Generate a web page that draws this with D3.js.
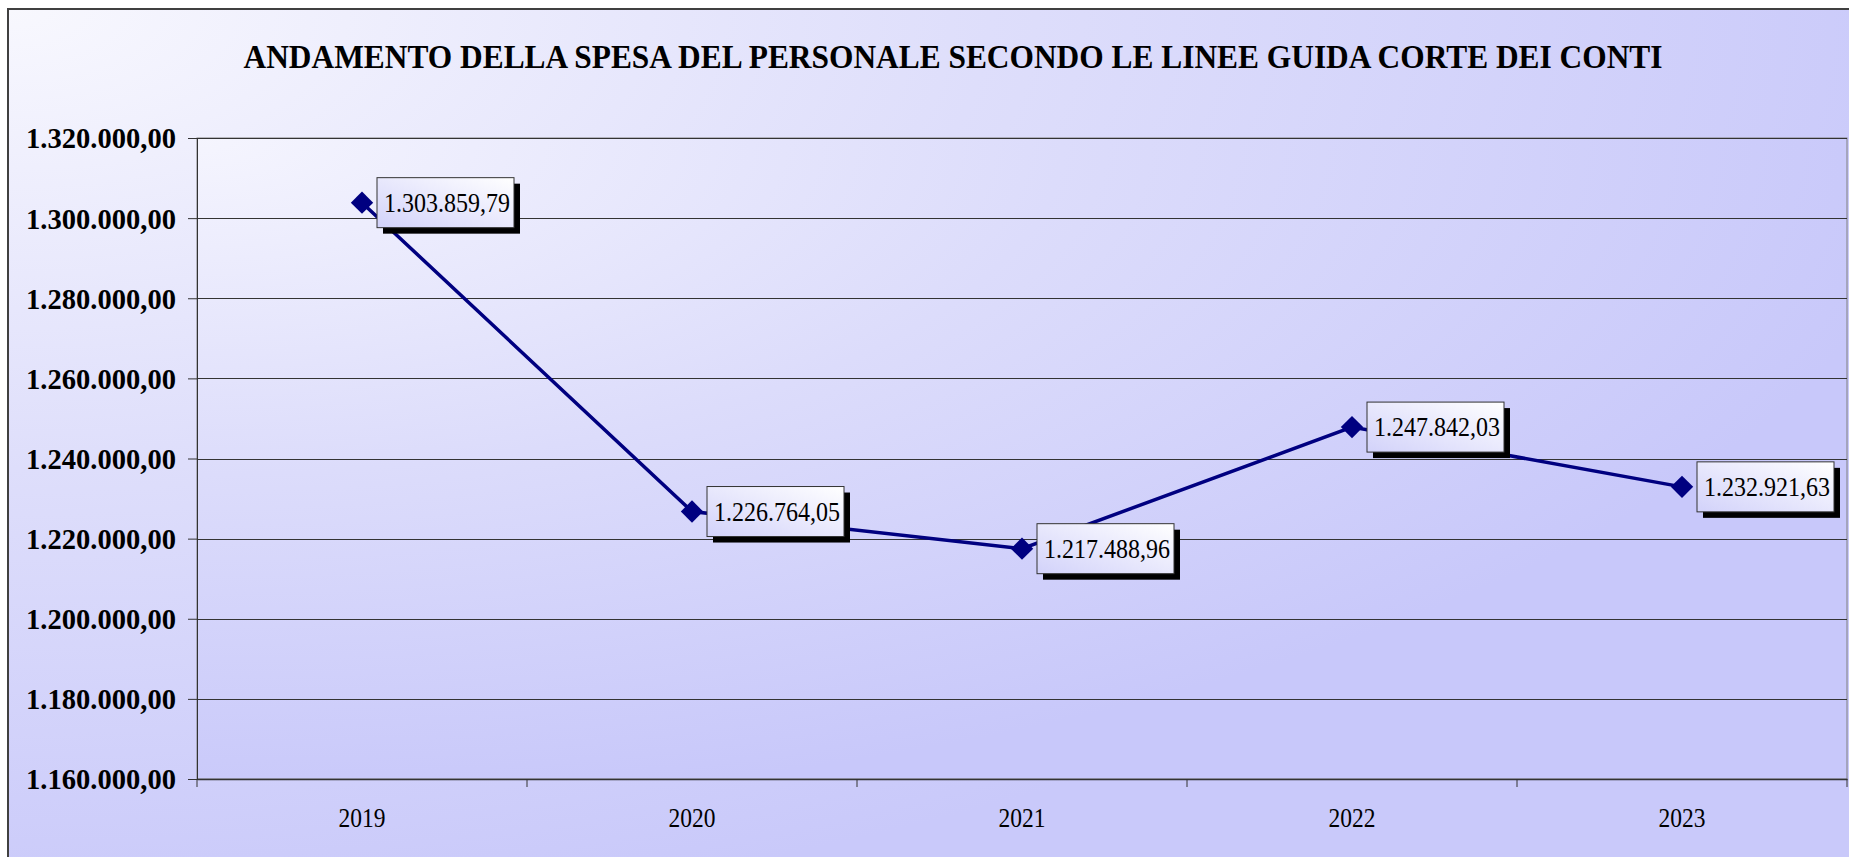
<!DOCTYPE html>
<html>
<head>
<meta charset="utf-8">
<script src="https://cdn.jsdelivr.net/npm/d3@7"></script>
<style>
  body { margin: 0; background: #ffffff; overflow: hidden; }
  svg { display: block; }
</style>
</head>
<body>
<div id="chart"></div>
<script>
// Data
const years = ["2019", "2020", "2021", "2022", "2023"];
const spesa = [1303859.79, 1226764.05, 1217488.96, 1247842.03, 1232921.63];
const yTicks = [1160000, 1180000, 1200000, 1220000, 1240000, 1260000, 1280000, 1300000, 1320000];
const title = "ANDAMENTO DELLA SPESA DEL PERSONALE SECONDO LE LINEE GUIDA CORTE DEI CONTI";

const W = 1849, H = 857;
const margin = {top: 138, right: 2, bottom: 78, left: 197};
const width = W - margin.left - margin.right;
const height = H - margin.top - margin.bottom;
const serif = "'Liberation Serif', 'Times New Roman', serif";

// Italian number format: 1.303.859,79
const it = d3.formatLocale({decimal: ",", thousands: ".", grouping: [3], currency: ["€", ""]});
const fmt = it.format(",.2f");

const svg = d3.select("#chart").append("svg")
    .attr("width", W)
    .attr("height", H);

//Gradients for chart background, plot area and label boxes.
const defs = svg.append("defs");
const bg = defs.append("radialGradient").attr("id", "bg")
    .attr("cx", "0").attr("cy", "0").attr("r", "1.05");
bg.append("stop").attr("offset", "0").attr("stop-color", "#f8f8fe");
bg.append("stop").attr("offset", "0.5").attr("stop-color", "#dedefb");
bg.append("stop").attr("offset", "1").attr("stop-color", "#c9c9fa");

const pg = defs.append("radialGradient").attr("id", "pg")
    .attr("cx", "0").attr("cy", "0").attr("r", "1.05");
pg.append("stop").attr("offset", "0").attr("stop-color", "#f5f5fe");
pg.append("stop").attr("offset", "0.5").attr("stop-color", "#dcdcfb");
pg.append("stop").attr("offset", "1").attr("stop-color", "#c8c8fa");

const lg = defs.append("linearGradient").attr("id", "lg")
    .attr("x1", "1").attr("y1", "0").attr("x2", "0").attr("y2", "1");
lg.append("stop").attr("offset", "0").attr("stop-color", "#ffffff");
lg.append("stop").attr("offset", "1").attr("stop-color", "#d2d2fa");

//Chart background with the border (right and bottom edges fall outside the window).
svg.append("rect")
    .attr("x", 8).attr("y", 9)
    .attr("width", W + 20).attr("height", H + 20)
    .attr("fill", "url(#bg)")
    .attr("stroke", "#404040")
    .attr("stroke-width", 2);

//Title
svg.append("text")
    .attr("x", 953)
    .attr("y", 68)
    .attr("text-anchor", "middle")
    .attr("font-family", serif)
    .attr("font-weight", "bold")
    .attr("font-size", 33)
    .attr("textLength", 1419)
    .attr("lengthAdjust", "spacingAndGlyphs")
    .text(title);

const g = svg.append("g")
    .attr("transform", "translate(" + margin.left + "," + margin.top + ")");

//Scales
const x = d3.scaleBand().domain(years).range([0, width]);
const y = d3.scaleLinear().domain([1160000, 1320000]).range([height, 0]);

//Plot area
g.append("rect")
    .attr("width", width).attr("height", height)
    .attr("fill", "url(#pg)")
    .attr("stroke", "#808080")
    .attr("stroke-width", 1);

//Gridlines
g.append("g")
    .selectAll("line")
    .data(yTicks)
    .join("line")
    .attr("x1", 0).attr("x2", width)
    .attr("y1", d => Math.round(y(d)) + 0.5)
    .attr("y2", d => Math.round(y(d)) + 0.5)
    .attr("stroke", "#333333")
    .attr("stroke-width", 1);

//Y axis
const yAxis = g.append("g")
    .call(d3.axisLeft(y).tickValues(yTicks).tickFormat(d => fmt(d)).tickSize(9).tickSizeOuter(0))
    .attr("font-family", serif);
yAxis.select(".domain").attr("stroke", "#333333");
yAxis.selectAll(".tick line").attr("stroke", "#333333");
yAxis.selectAll(".tick text")
    .attr("x", -21)
    .attr("dy", "0.34em")
    .attr("font-size", 29)
    .attr("font-weight", "bold")
    .attr("textLength", 150)
    .attr("lengthAdjust", "spacingAndGlyphs")
    .attr("fill", "#000000");

//X axis with ticks between categories
const xAxis = g.append("g")
    .attr("transform", "translate(0," + height + ")")
    .call(d3.axisBottom(x).tickSize(0).tickPadding(29))
    .attr("font-family", serif);
xAxis.select(".domain").attr("stroke", "#333333").attr("stroke-width", 1.5);
xAxis.selectAll(".tick text")
    .attr("font-size", 27)
    .attr("textLength", 47)
    .attr("lengthAdjust", "spacingAndGlyphs")
    .attr("fill", "#000000");
xAxis.append("g")
    .selectAll("line")
    .data(years.map(d => x(d)).concat([width]))
    .join("line")
    .attr("x1", d => d).attr("x2", d => d)
    .attr("y1", 0).attr("y2", 8)
    .attr("stroke", "#333333");

//Line
const cx = i => x(years[i]) + x.bandwidth() / 2;
const line = d3.line()
    .x((d, i) => cx(i))
    .y(d => y(d));

g.append("path")
    .datum(spesa)
    .attr("fill", "none")
    .attr("stroke", "#000080")
    .attr("stroke-width", 3.5)
    .attr("d", line);

//Diamond markers
g.selectAll(".marker")
    .data(spesa)
    .join("path")
    .attr("class", "marker")
    .attr("d", d3.symbol().type(d3.symbolSquare).size(250))
    .attr("transform", (d, i) => "translate(" + cx(i) + "," + y(d) + ") rotate(45)")
    .attr("fill", "#000080");

//Data labels in boxes with a black shadow
const labels = g.selectAll(".lbl")
    .data(spesa)
    .join("g")
    .attr("class", "lbl")
    .attr("transform", (d, i) => "translate(" + (cx(i) + 15) + "," + (y(d) - 25) + ")");

labels.append("rect")
    .attr("x", 6).attr("y", 6)
    .attr("width", 137).attr("height", 50)
    .attr("fill", "#000000");
labels.append("rect")
    .attr("width", 137).attr("height", 50)
    .attr("fill", "url(#lg)")
    .attr("stroke", "#333333")
    .attr("stroke-width", 1);
labels.append("text")
    .attr("x", 7)
    .attr("y", 34)
    .attr("font-family", serif)
    .attr("font-size", 27)
    .attr("textLength", 126)
    .attr("lengthAdjust", "spacingAndGlyphs")
    .attr("fill", "#000000")
    .text(d => fmt(d));
</script>
</body>
</html>
